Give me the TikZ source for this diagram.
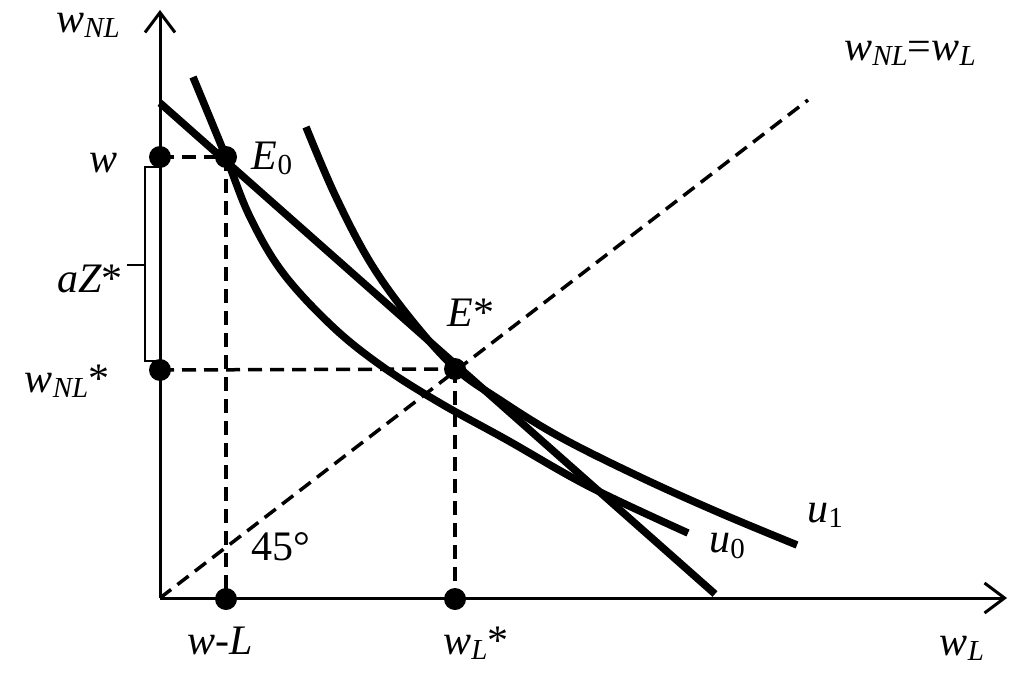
\documentclass[tikz,border=0pt]{standalone}
\usepackage{fontspec}
\setmainfont{Liberation Serif}
\usetikzlibrary{arrows.meta}
\newcommand{\mysub}[1]{\raisebox{-0.12em}{\fontsize{29}{29}\selectfont #1}}
\tikzset{
  axis/.style={line width=3pt,-{Straight Barb[length=20pt,width=30pt,line width=3pt]}},
  curve/.style={line width=7.5pt},
  dashline/.style={line width=3.5pt,dash pattern=on 14pt off 8pt},
  dot/.style={circle,fill=black,inner sep=0pt,minimum size=22pt},
  lbl/.style={font=\fontsize{42}{44}\selectfont,inner sep=0pt},
  bracket/.style={line width=2.5pt}
}
\begin{document}
\begin{tikzpicture}[x=1pt,y=-1pt]
\useasboundingbox (0,0) rectangle (1024,676);
% axes
\coordinate (O) at (160,598);
\coordinate (ytip) at (160,10);
\coordinate (xtip) at (1007,598);
\draw[axis] (O) -- (ytip);
\draw[axis] (O) -- (xtip);
% 45 degree line
\coordinate (diagend) at (808,100);
\draw[dashline] (O) -- (diagend);
% dots
\node[dot] (w) at (160,157) {};
\node[dot] (E0) at (226,157) {};
\node[dot] (wNLs) at (160,370) {};
\node[dot] (Es) at (455,369) {};
\node[dot] (wL) at (226,599) {};
\node[dot] (wLs) at (455,599) {};
% dashed guides
\draw[dashline] (w.center) -- (E0.center);
\draw[dashline] (E0.center) -- (wL.center);
\draw[dashline] (wNLs.center) -- (Es.center);
\draw[dashline] (Es.center) -- (wLs.center);
% budget line
\coordinate (b1) at (160,103);
\coordinate (b2) at (715,594);
\draw[curve] (b1) -- (b2);
% u0
\draw[curve] plot[smooth,tension=0.6] coordinates {(193,77) (226,157) (250,217) (283,273) (333,327) (383,367) (440,403) (507,440) (590,487) (688,533)};
% u1
\draw[curve] plot[smooth,tension=0.6] coordinates {(306,127) (335,195) (370,262) (410,318) (455,368) (500,400) (560,437) (640,477) (720,513) (797,545)};
% bracket aZ*
\coordinate (br1) at (160,167);
\coordinate (br2) at (145,167);
\coordinate (br3) at (145,361);
\coordinate (br4) at (160,361);
\coordinate (brm) at (145,265);
\coordinate (brt) at (127,265);
\draw[bracket] (br1) -- (br2) -- (br3) -- (br4);
\draw[bracket] (brm) -- (brt);
% labels
\node[lbl] (lwNL) at (88,25) {\textit{w}\mysub{\textit{NL}}};
\node[lbl] (lw) at (104,163) {\textit{w}};
\node[lbl] (laZ) at (90,279) {\textit{aZ}*};
\node[lbl] (lwNLs) at (67,381) {\textit{w}\mysub{\textit{NL}}*};
\node[lbl] (lE0) at (272,158) {\textit{E}\mysub{0}};
\node[lbl] (lEs) at (471,313) {\textit{E}*};
\node[lbl] (l45) at (281,547) {45°};
\node[lbl] (lwL) at (220,641) {\textit{w}-\textit{L}};
\node[lbl] (lwLs) at (476,643) {\textit{w}\mysub{\textit{L}}*};
\node[lbl] (lwLax) at (962,648) {\textit{w}\mysub{\textit{L}}};
\node[lbl] (lu0) at (727,546) {\textit{u}\mysub{0}};
\node[lbl] (lu1) at (825,515) {\textit{u}\mysub{1}};
\node[lbl] (ldiag) at (910,53) {\textit{w}\mysub{\textit{NL}}=\textit{w}\mysub{\textit{L}}};
\end{tikzpicture}
\end{document}
